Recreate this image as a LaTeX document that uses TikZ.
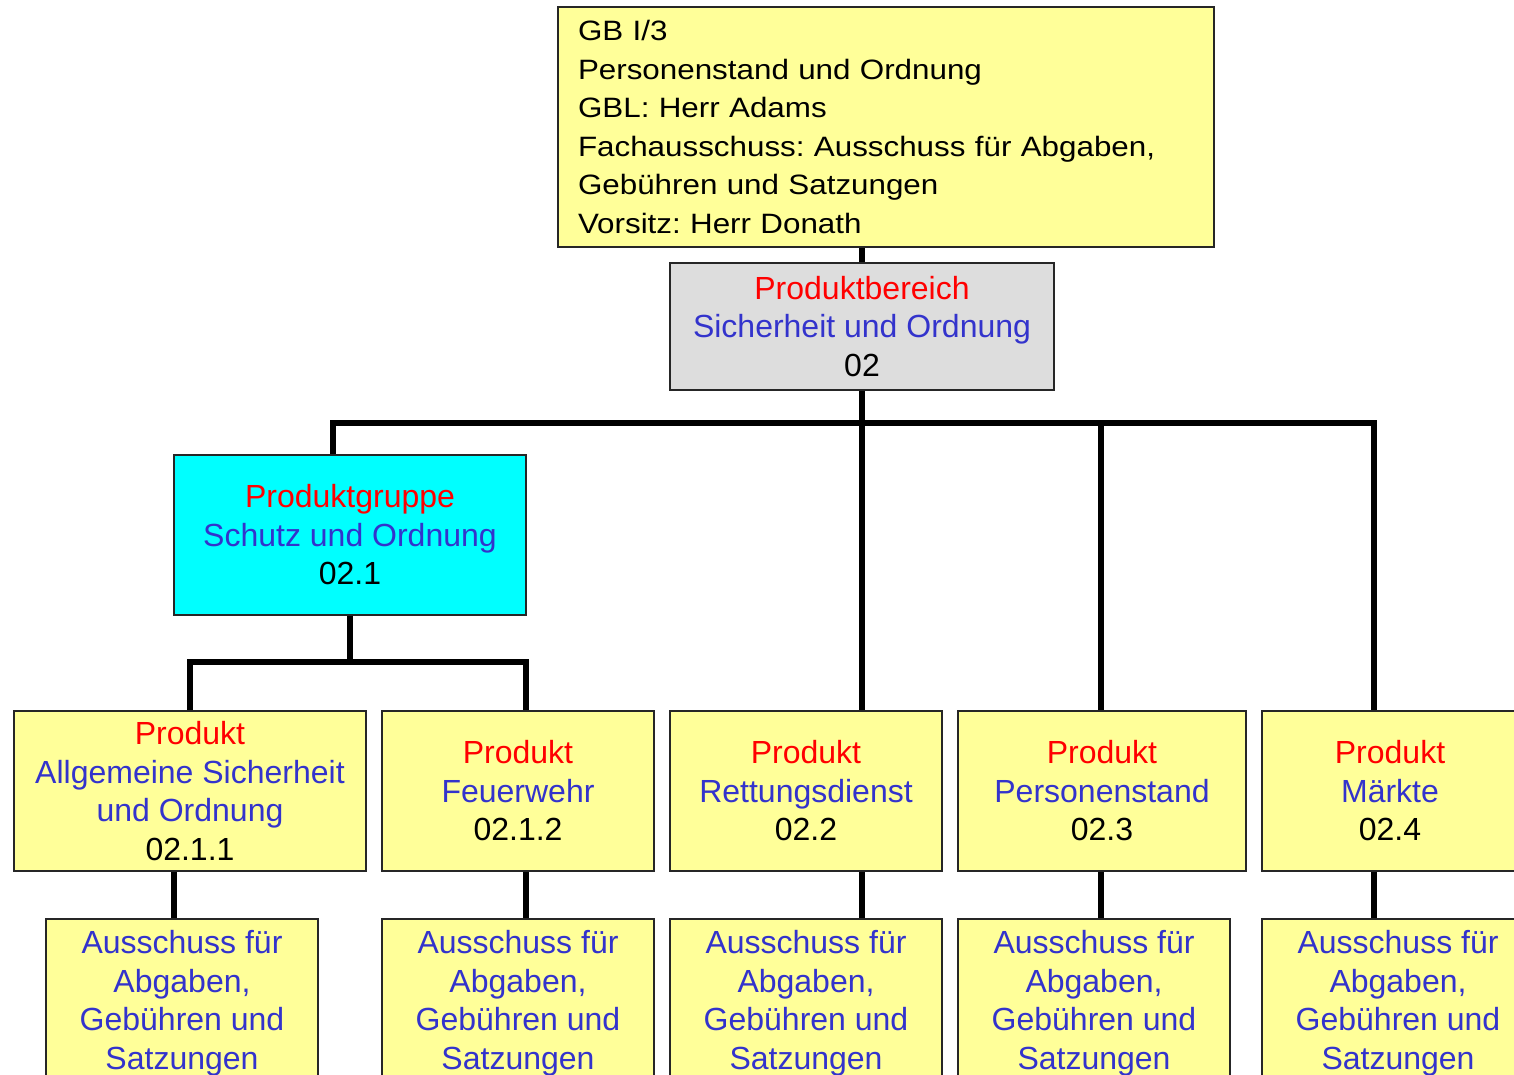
\documentclass[tikz,border=0pt]{standalone}
\usepackage{fontspec}
\setmainfont{Liberation Sans}
\newfontfamily\topf[FakeStretch=1.12]{Liberation Sans}
\definecolor{rd}{HTML}{FF0000}
\definecolor{bl}{HTML}{3333CC}
\definecolor{yl}{HTML}{FFFF99}
\definecolor{gy}{HTML}{DDDDDD}
\definecolor{cy}{HTML}{00FFFF}
\newcommand{\mainf}{\fontsize{16}{19.25}\selectfont}
\frenchspacing
\begin{document}
\begin{tikzpicture}[x=0.5pt,y=-0.5pt,
  box/.style={draw=black!85, line width=0.8pt, inner sep=0pt, align=center, font=\mainf, minimum height=80pt},
  conn/.style={draw=black, line width=3pt, line join=miter}]
\useasboundingbox (0,0) rectangle (1514,1075);
\clip (0,0) rectangle (1514,1075);
% boxes
\node[box, fill=yl, minimum width=328pt, minimum height=120pt, text width=308pt, align=left, font=\topf\fontsize{14}{19.25}\selectfont] (top) at (886,127)
  {GB I/3\\Personenstand und Ordnung\\GBL: Herr Adams\\Fachausschuss: Ausschuss für Abgaben,\\Gebühren und Satzungen\\Vorsitz: Herr Donath};
\node[box, fill=gy, minimum width=192pt, minimum height=63.5pt] (pb) at (862,326.5)
  {\textcolor{rd}{Produktbereich}\\\textcolor{bl}{Sicherheit und Ordnung}\\02};
\node[box, fill=cy, minimum width=176pt] (pg) at (350,535)
  {\textcolor{rd}{Produktgruppe}\\\textcolor{bl}{Schutz und Ordnung}\\02.1};
\node[box, fill=yl, minimum width=176pt] (p1) at (190,791)
  {\textcolor{rd}{Produkt}\\\textcolor{bl}{Allgemeine Sicherheit}\\\textcolor{bl}{und Ordnung}\\02.1.1};
\node[box, fill=yl, minimum width=136pt] (p2) at (518,791)
  {\textcolor{rd}{Produkt}\\\textcolor{bl}{Feuerwehr}\\02.1.2};
\node[box, fill=yl, minimum width=136pt] (p3) at (806,791)
  {\textcolor{rd}{Produkt}\\\textcolor{bl}{Rettungsdienst}\\02.2};
\node[box, fill=yl, minimum width=144pt] (p4) at (1102,791)
  {\textcolor{rd}{Produkt}\\\textcolor{bl}{Personenstand}\\02.3};
\node[box, fill=yl, minimum width=128pt] (p5) at (1390,791)
  {\textcolor{rd}{Produkt}\\\textcolor{bl}{Märkte}\\02.4};
\tikzset{cbox/.style={box, fill=yl, minimum width=136pt, minimum height=84pt, text=bl}}
\node[cbox] (c1) at (182,1003)
  {Ausschuss für\\Abgaben,\\Gebühren und\\Satzungen};
\node[cbox] (c2) at (518,1003)
  {Ausschuss für\\Abgaben,\\Gebühren und\\Satzungen};
\node[cbox] (c3) at (806,1003)
  {Ausschuss für\\Abgaben,\\Gebühren und\\Satzungen};
\node[cbox] (c4) at (1094,1003)
  {Ausschuss für\\Abgaben,\\Gebühren und\\Satzungen};
\node[cbox] (c5) at (1398,1003)
  {Ausschuss für\\Abgaben,\\Gebühren und\\Satzungen};
% connector coordinates
\coordinate (busL) at (333,423);
\coordinate (busR) at (1374,423);
\coordinate (subL) at (190,662);
\coordinate (subR) at (526,662);
\coordinate (k1) at (174,0);
\coordinate (k2) at (526,0);
\coordinate (k3) at (862,0);
\coordinate (k4) at (1101,0);
\coordinate (k5) at (1374,0);
% connectors
\draw[conn] (pb.north) -- (pb.north |- top.south);
\draw[conn] (pb.south) -- (pb.south |- p3.north);
\draw[conn] (busL |- pg.north) -- (busL) -- (busR) -- (busR |- p5.north);
\draw[conn] (k4 |- p4.north) -- (k4 |- busL);
\draw[conn] (pg.south) -- (pg.south |- subL);
\draw[conn] (subL |- p1.north) -- (subL) -- (subR) -- (subR |- p2.north);
\draw[conn] (k1 |- p1.south) -- (k1 |- c1.north);
\draw[conn] (k2 |- p2.south) -- (k2 |- c2.north);
\draw[conn] (k3 |- p3.south) -- (k3 |- c3.north);
\draw[conn] (k4 |- p4.south) -- (k4 |- c4.north);
\draw[conn] (k5 |- p5.south) -- (k5 |- c5.north);
\end{tikzpicture}
\end{document}
